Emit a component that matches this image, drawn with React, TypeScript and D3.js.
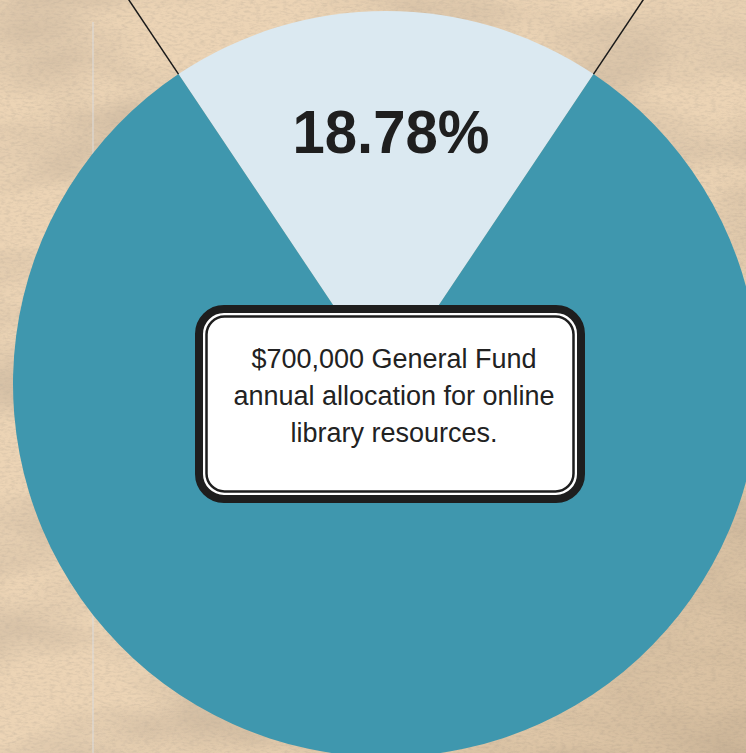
import React from "react";
import * as d3 from "d3";

const categories = ["Online library resources", "Other"];
const shares = [18.78, 81.22];
const sliceColors = ["#dbe9f1", "#3f97ae"];
const percentLabel = "18.78%";
const calloutLines = [
  "$700,000 General Fund",
  "annual allocation for online",
  "library resources.",
];

const W = 746;
const H = 753;
const cx = 386;
const cy = 384;
const R = 373;

export default function App() {
  const total = d3.sum(shares);
  const half = (shares[0] / total) * Math.PI;
  const pie = d3
    .pie<number>()
    .sort(null)
    .value((d) => d)
    .startAngle(-half)
    .endAngle(-half + 2 * Math.PI);
  const arcs = pie(shares);
  const arcGen = d3.arc<d3.PieArcDatum<number>>().innerRadius(0).outerRadius(R);

  const leftA = arcs[0].startAngle;
  const rightA = arcs[0].endAngle;
  const l0 = d3.pointRadial(leftA, R);
  const l1 = d3.pointRadial(leftA, R + 140);
  const r0 = d3.pointRadial(rightA, R);
  const r1 = d3.pointRadial(rightA, R + 140);

  const boxX = 195, boxY = 305, boxW = 390, boxH = 198;

  return (
    <svg
      width={W}
      height={H}
      viewBox={`0 0 ${W} ${H}`}
      style={{ position: "fixed", left: 0, top: 0, display: "block" }}
    >
      <defs>
        <filter id="paper" x="0" y="0" width="100%" height="100%">
          <feTurbulence type="fractalNoise" baseFrequency="0.006 0.012" numOctaves="3" seed="11" />
          <feColorMatrix
            type="matrix"
            values="0 0 0 0 0.45  0 0 0 0 0.36  0 0 0 0 0.27  1.0 0 0 0 -0.42"
          />
        </filter>
        <filter id="grain" x="0" y="0" width="100%" height="100%">
          <feTurbulence type="fractalNoise" baseFrequency="0.18 0.45" numOctaves="3" seed="3" />
          <feColorMatrix
            type="matrix"
            values="0 0 0 0 0.52  0 0 0 0 0.43  0 0 0 0 0.33  1.1 0 0 0 -0.45"
          />
        </filter>
        <linearGradient id="shade" x1="0" y1="0" x2="1" y2="1">
          <stop offset="0.55" stopColor="#8a7050" stopOpacity={0} />
          <stop offset="1" stopColor="#8a7050" stopOpacity={0.22} />
        </linearGradient>
      </defs>
      <rect x={0} y={0} width={W} height={H} fill="#ecd4b5" />
      <rect x={0} y={0} width={W} height={H} filter="url(#paper)" />
      <rect x={0} y={0} width={W} height={H} filter="url(#grain)" opacity={0.8} />
      <rect x={0} y={0} width={W} height={H} fill="url(#shade)" />
      <line x1={93} y1={22} x2={93} y2={H} stroke="#dcdcdc" strokeWidth={1} />

      <g transform={`translate(${cx},${cy})`}>
        {arcs.map((a, i) => (
          <path key={categories[i]} d={arcGen(a) ?? ""} fill={sliceColors[i]} />
        ))}
        <line x1={l0[0]} y1={l0[1]} x2={l1[0]} y2={l1[1]} stroke="#1a1a1a" strokeWidth={1.5} />
        <line x1={r0[0]} y1={r0[1]} x2={r1[0]} y2={r1[1]} stroke="#1a1a1a" strokeWidth={1.5} />
      </g>

      <text
        x={cx + 5}
        y={153}
        textAnchor="middle"
        fontFamily="'Liberation Sans', Arial, Helvetica, sans-serif"
        fontWeight="bold"
        fontSize={62}
        textLength={197}
        lengthAdjust="spacingAndGlyphs"
        fill="#1f1f1f"
      >
        {percentLabel}
      </text>

      <rect
        x={boxX + 4}
        y={boxY + 4}
        width={boxW - 8}
        height={boxH - 8}
        rx={25}
        fill="#ffffff"
        stroke="#1e1e1e"
        strokeWidth={8}
      />
      <rect
        x={boxX + 11.5}
        y={boxY + 11.5}
        width={boxW - 23}
        height={boxH - 23}
        rx={18}
        fill="#ffffff"
        stroke="#1e1e1e"
        strokeWidth={2.5}
      />
      {calloutLines.map((t, i) => (
        <text
          key={i}
          x={394}
          y={368 + i * 37}
          textAnchor="middle"
          fontFamily="'Liberation Sans', Arial, Helvetica, sans-serif"
          fontSize={27}
          fill="#222222"
        >
          {t}
        </text>
      ))}
    </svg>
  );
}
